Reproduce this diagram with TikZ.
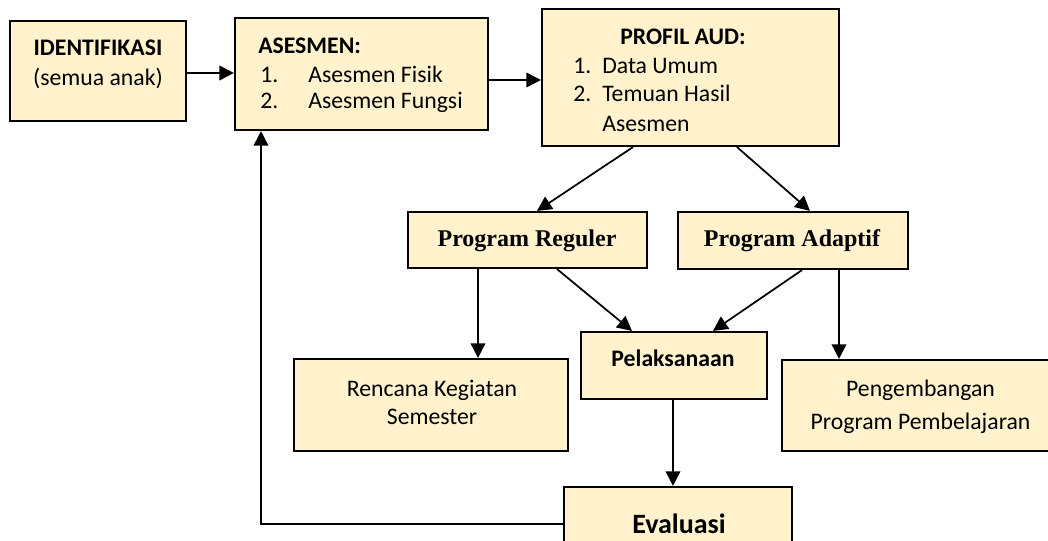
\documentclass[tikz,border=0pt]{standalone}
\usepackage{fontspec}
\setmainfont{Carlito}
\newfontfamily\timesfont{Liberation Serif}
\usetikzlibrary{arrows.meta,calc}
\definecolor{boxfill}{HTML}{FFF2CC}

\begin{document}
\begin{tikzpicture}[x=0.75pt,y=-0.75pt,
  box/.style={draw=black,line width=1.6pt,fill=boxfill,rectangle,inner sep=0pt},
  txt/.style={inner sep=0pt,font=\fontsize{17.8}{21}\selectfont},
  progtxt/.style={inner sep=0pt,anchor=base,font=\timesfont\bfseries\fontsize{18}{20}\selectfont},
  link/.style={line width=1.3pt,-{Triangle[length=11pt,width=11pt]}},
]
\useasboundingbox (0,0) rectangle (1048,541);

% boxes
\node[box,minimum width=132pt,minimum height=75pt]       (iden) at (98,71) {};
\node[box,minimum width=189.75pt,minimum height=84pt]    (ases) at (361.5,74) {};
\node[box,minimum width=222.75pt,minimum height=102.75pt](prof) at (690.5,77.5) {};
\node[box,minimum width=179.25pt,minimum height=42pt]    (reg)  at (527.5,240) {};
\node[box,minimum width=172.5pt,minimum height=42.75pt]  (adp)  at (793,240.5) {};
\node[box,minimum width=139.5pt,minimum height=50.25pt]  (pel)  at (674,365.5) {};
\node[box,minimum width=205.5pt,minimum height=69pt]     (ren)  at (431,405) {};
\node[box,minimum width=202.5pt,minimum height=68.25pt]  (pen)  at (917,405.5) {};
\node[box,minimum width=171pt,minimum height=47.25pt]    (eva)  at (678,518.5) {};

% texts
\node[txt,anchor=base] (idenA) at (98,55.5) {\bfseries IDENTIFIKASI};
\node[txt,anchor=base] (idenB) at (98,86) {(semua anak)};

\node[txt,anchor=base west] (asesT)  at (258,54)  {\bfseries ASESMEN:};
\node[txt,anchor=base west] (ases1n) at (260,83)  {1.};
\node[txt,anchor=base west] (ases1)  at (308,83)  {Asesmen Fisik};
\node[txt,anchor=base west] (ases2n) at (260,109) {2.};
\node[txt,anchor=base west] (ases2)  at (308,109) {Asesmen Fungsi};

\node[txt,anchor=base]      (profT)  at (683,44.5) {\bfseries PROFIL AUD:};
\node[txt,anchor=base west] (prof1n) at (573,74)  {1.};
\node[txt,anchor=base west] (prof1)  at (602,74)  {Data Umum};
\node[txt,anchor=base west] (prof2n) at (573,102) {2.};
\node[txt,anchor=base west] (prof2)  at (602,102) {Temuan Hasil};
\node[txt,anchor=base west] (prof3)  at (602,132) {Asesmen};

\node[progtxt] (regT) at (527,246.5) {Program Reguler};
\node[progtxt] (adpT) at (792,247)   {Program Adaptif};

\node[txt,anchor=base] (pelT) at (673,366) {\bfseries Pelaksanaan};

\node[txt,anchor=base] (renA) at (432,396) {Rencana Kegiatan};
\node[txt,anchor=base] (renB) at (432,424) {Semester};

\node[txt,anchor=base] (penA) at (920.5,396) {Pengembangan};
\node[txt,anchor=base] (penB) at (920.5,429) {Program Pembelajaran};

\node[txt,anchor=base,font=\fontsize{21}{24}\selectfont\bfseries] (evaT) at (679,533) {Evaluasi};

% connectors
\draw[link] (iden.east |- 0,73) -- (ases.west |- 0,73);
\draw[link] (ases.east |- 0,80) -- (prof.west |- 0,80);
\draw[link] ($(prof.south)+(-57.5,0)$) -- ($(reg.north)+(9.5,0)$);
\draw[link] ($(prof.south)+(46.5,0)$) -- ($(adp.north)+(17,0)$);
\draw[link] (reg.south -| 478,0) -- (ren.north -| 478,0);
\draw[link] ($(reg.south)+(29.5,0)$) -- ($(pel.north)+(-42,0)$);
\draw[link] ($(adp.south)+(9,0)$) -- ($(pel.north)+(39,0)$);
\draw[link] (adp.south -| 839,0) -- (pen.north -| 839,0);
\draw[link] (pel.south -| 673,0) -- (eva.north -| 673,0);
\coordinate (fb) at (261,524);
\draw[link] (eva.west |- fb) -- (fb) -- (fb |- ases.south);
\end{tikzpicture}
\end{document}
